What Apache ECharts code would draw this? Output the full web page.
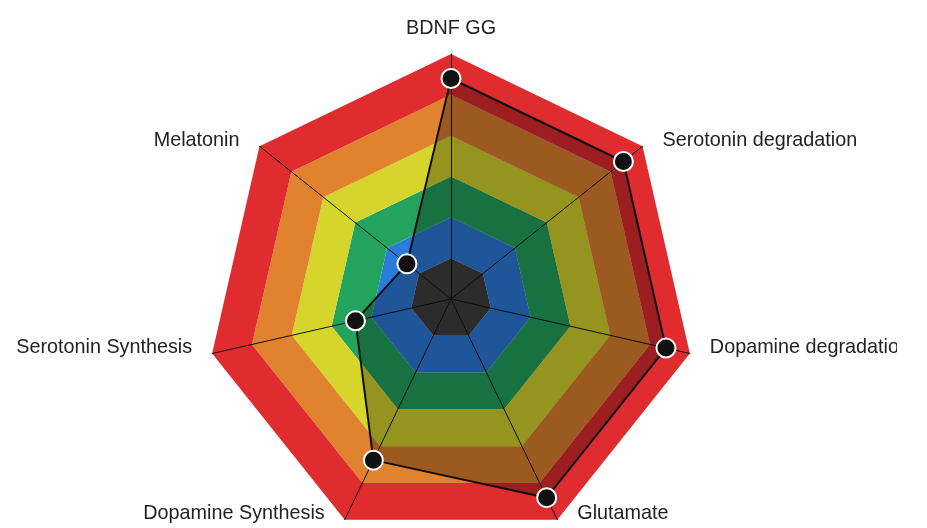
<!DOCTYPE html>
<html>
<head>
<meta charset="utf-8">
<script src="https://cdn.jsdelivr.net/npm/echarts@6/dist/echarts.min.js"></script>
<style>
  html, body { margin: 0; padding: 0; background: #fff; }
  #main { width: 897px; height: 528px; }
</style>
</head>
<body>
<div id="main"></div>
<script>
// indicators go counter-clockwise from the top
var indicatorNames = ['BDNF GG', 'Melatonin', 'Serotonin Synthesis', 'Dopamine Synthesis',
  'Glutamate', 'Dopamine degradation', 'Serotonin degradation'];
var indicatorMax = 100;
var scores = [90, 23, 40, 73, 90, 90, 90];
// bands from the centre outwards
var bandColors = ['#3f3f3f', '#2b7bdb', '#22a35e', '#d6d52b', '#e0822e', '#e02c2e'];

var myChart = echarts.init(document.getElementById('main'));

// labels sit level with their corner, a bit to the side
function indicatorOf(name, i) {
  var ind = { name: name, max: indicatorMax };
  if (i === 0) {
    ind.nameGap = 15;
    ind.nameTextStyle = { align: 'center', verticalAlign: 'bottom' };
  } else if (i <= 3) {
    ind.nameGap = 0;
    ind.nameTextStyle = { align: 'right', verticalAlign: 'bottom', lineHeight: 12, padding: [0, 20, 0, 0] };
  } else {
    ind.nameGap = 0;
    ind.nameTextStyle = { align: 'left', verticalAlign: 'bottom', lineHeight: 12, padding: [0, 0, 0, 20] };
  }
  return ind;
}

var option = {
  animation: false,
  radar: {
    center: [451, 299],
    radius: 245,
    startAngle: 90,
    splitNumber: 6,
    shape: 'polygon',
    indicator: indicatorNames.map(indicatorOf),
    axisName: {
      color: '#222',
      fontSize: 19.8,
      fontFamily: 'Liberation Sans, Arial, sans-serif'
    },
    axisLine: { lineStyle: { color: '#111', width: 1 } },
    splitLine: { show: false },
    splitArea: { show: true, areaStyle: { color: bandColors } }
  },
  series: [{
    type: 'radar',
    symbol: 'circle',
    symbolSize: 19,
    itemStyle: { color: '#111', borderColor: '#fff', borderWidth: 2 },
    lineStyle: { color: '#111', width: 2 },
    areaStyle: { color: '#000', opacity: 0.3 },
    data: [{ value: scores }]
  }]
};

myChart.setOption(option);
</script>
</body>
</html>
